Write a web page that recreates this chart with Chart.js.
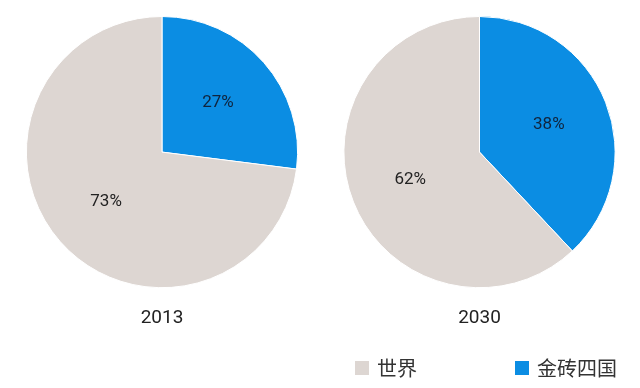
<!DOCTYPE html>
<html>
<head>
<meta charset="utf-8">
<script src="https://cdn.jsdelivr.net/npm/chart.js@4/dist/chart.umd.min.js"></script>
<style>
  body { margin: 0; background: #fff; width: 640px; height: 388px; position: relative; overflow: hidden; font-family: Roboto, "Noto Sans CJK SC", sans-serif; }
  .box { position: absolute; top: 0; height: 340px; }
  #legend { position: absolute; top: 353px; left: 355px; display: flex; font-family: "Noto Sans CJK SC", sans-serif; font-size: 20px; color: #333; }
  #legend .item { display: flex; align-items: center; }
  #legend .sw { width: 14px; height: 14px; margin-right: 8px; }
</style>
</head>
<body>
<div class="box" style="left:0;width:324px"><canvas id="pie2013"></canvas></div>
<div class="box" style="left:317px;width:325px"><canvas id="pie2030"></canvas></div>
<div id="legend"></div>

<script>
// data
const years = ["2013", "2030"];
const groups = ["金砖四国", "世界"];
const share2013 = [27, 73];
const share2030 = [38, 62];

const sliceColors = ["#0b8de3", "#ddd6d2"];
const labelColors = ["#10243d", "#222222"];

// percent labels inside the slices
const pctLabels = {
  id: "pctLabels",
  afterDatasetsDraw(chart) {
    const ctx = chart.ctx;
    const meta = chart.getDatasetMeta(0);
    const data = chart.data.datasets[0].data;
    ctx.save();
    ctx.font = "17px Roboto";
    ctx.textAlign = "center";
    ctx.textBaseline = "middle";
    meta.data.forEach((arc, i) => {
      const mid = (arc.startAngle + arc.endAngle) / 2;
      const r = arc.outerRadius * 0.55;
      ctx.fillStyle = labelColors[i];
      ctx.fillText(data[i] + "%", arc.x + Math.cos(mid) * r, arc.y + Math.sin(mid) * r);
    });
    ctx.restore();
  }
};

function makePie(id, year, values) {
  return new Chart(document.getElementById(id), {
    type: "pie",
    data: {
      labels: groups,
      datasets: [{
        data: values,
        backgroundColor: sliceColors,
        borderColor: "#ffffff",
        borderWidth: 1
      }]
    },
    options: {
      responsive: true,
      maintainAspectRatio: false,
      animation: false,
      layout: { padding: { top: 16 } },
      plugins: {
        legend: { display: false },
        tooltip: { enabled: false },
        title: {
          display: true,
          text: year,
          position: "bottom",
          color: "#222",
          font: { family: "Roboto", size: 19, weight: "normal" },
          padding: { top: 19, bottom: 10 }
        }
      }
    },
    plugins: [pctLabels]
  });
}

makePie("pie2013", years[0], share2013);
makePie("pie2030", years[1], share2030);

// legend: 世界 first, then 金砖四国
const legend = document.getElementById("legend");
[1, 0].forEach((i, n) => {
  const item = document.createElement("div");
  item.className = "item";
  if (n > 0) item.style.marginLeft = "98px";
  const sw = document.createElement("span");
  sw.className = "sw";
  sw.style.background = sliceColors[i];
  const txt = document.createElement("span");
  txt.textContent = groups[i];
  item.appendChild(sw);
  item.appendChild(txt);
  legend.appendChild(item);
});
</script>
</body>
</html>
